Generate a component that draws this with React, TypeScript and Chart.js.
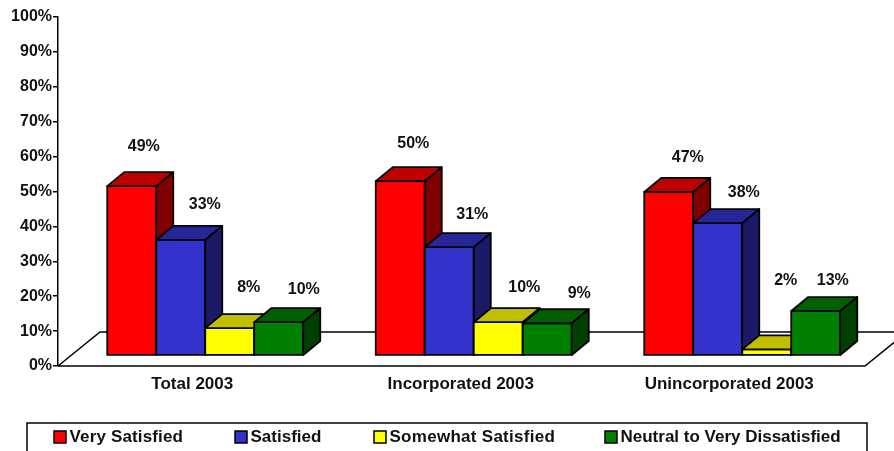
import React, { useEffect, useRef } from "react";
import { Chart, registerables } from "chart.js";

Chart.register(...registerables);

const categories = ["Total 2003", "Incorporated 2003", "Unincorporated 2003"];
const seriesNames = ["Very Satisfied", "Satisfied", "Somewhat Satisfied", "Neutral to Very Dissatisfied"];
const verySatisfied = [48.6, 50, 46.9];
const satisfied = [33.2, 31.1, 38];
const somewhatSatisfied = [7.9, 9.6, 1.8];
const neutralToDissatisfied = [9.6, 9.3, 12.8];
const seriesValues = [verySatisfied, satisfied, somewhatSatisfied, neutralToDissatisfied];

const frontColors = ["#FF0000", "#3333CC", "#FFFF00", "#008000"];
const topColors = ["#BF0000", "#262699", "#BFBF00", "#006000"];
const sideColors = ["#800000", "#1A1A66", "#808000", "#004000"];

// label nudges relative to the top centre of each bar's front face
const labelNudges = [
  [[12, -39], [13, -38], [19, -34]],
  [[24, -35], [23, -33], [26, -30]],
  [[19, -41], [26, -35], [19, -69]],
  [[25, -33], [32, -30], [17, -30]],
];
const legendX = [54, 235, 374, 605];
const legendTracking = ["0.15px", "0px", "0.28px", "0px"];

const FONT = '"Liberation Sans", Arial, sans-serif';
const INK = "#000000";
const SHIFT_X = 13;
const SHIFT_Y = -10.3;
const DEPTH_X = 17;
const DEPTH_Y = 14;
const EDGE = 1.8;

function poly(ctx: CanvasRenderingContext2D, pts: number[][], fill: string | null) {
  ctx.beginPath();
  pts.forEach((p, i) => (i ? ctx.lineTo(p[0], p[1]) : ctx.moveTo(p[0], p[1])));
  ctx.closePath();
  if (fill) {
    ctx.fillStyle = fill;
    ctx.fill();
  }
  ctx.stroke();
}

const bars3d = {
  id: "bars3d",
  beforeDatasetsDraw(chart: any) {
    const { ctx, chartArea: a, width } = chart;
    ctx.save();
    ctx.strokeStyle = INK;
    ctx.lineWidth = 1.5;
    ctx.beginPath();
    ctx.moveTo(a.left, a.bottom);
    ctx.lineTo(a.left + 42, a.bottom - 34);
    ctx.lineTo(width + 20, a.bottom - 34);
    ctx.moveTo(a.left, a.bottom);
    ctx.lineTo(a.right + 1.5, a.bottom);
    ctx.lineTo(a.right + 43.5, a.bottom - 34);
    ctx.stroke();
    ctx.restore();
  },
  // Chart.js paints the last dataset first; here each bar must overlap the one on its left.
  beforeDatasetDraw() {
    return false;
  },
  afterDatasetsDraw(chart: any) {
    const { ctx } = chart;
    seriesNames.forEach((_, s) => {
      const meta = chart.getDatasetMeta(s);
      ctx.save();
      ctx.translate(SHIFT_X, SHIFT_Y);
      meta.controller.draw();
      ctx.strokeStyle = INK;
      ctx.lineWidth = EDGE;
      ctx.lineJoin = "round";
      meta.data.forEach((bar: any) => {
        const p = bar.getProps(["x", "y", "base", "width"], true);
        const l = p.x - p.width / 2;
        const r = p.x + p.width / 2;
        poly(ctx, [[l, p.y], [r, p.y], [r, p.base], [l, p.base]], null);
        poly(ctx, [[l, p.y], [l + DEPTH_X, p.y - DEPTH_Y], [r + DEPTH_X, p.y - DEPTH_Y], [r, p.y]], topColors[s]);
        poly(ctx, [[r, p.y], [r + DEPTH_X, p.y - DEPTH_Y], [r + DEPTH_X, p.base - DEPTH_Y], [r, p.base]], sideColors[s]);
      });
      ctx.restore();
    });
  },
  afterDraw(chart: any) {
    const { ctx } = chart;
    ctx.save();
    // data labels
    ctx.fillStyle = "#111111";
    ctx.font = `bold 16px ${FONT}`;
    ctx.textAlign = "center";
    ctx.textBaseline = "middle";
    seriesValues.forEach((vals, s) => {
      const meta = chart.getDatasetMeta(s);
      vals.forEach((v, i) => {
        const bar = meta.data[i];
        const n = labelNudges[s][i];
        ctx.fillText(`${Math.round(v)}%`, bar.x + SHIFT_X + n[0], bar.y + SHIFT_Y + n[1]);
      });
    });
    // legend
    ctx.strokeStyle = INK;
    ctx.lineWidth = 1.5;
    ctx.strokeRect(27, 423, 840, 60);
    ctx.font = `bold 17px ${FONT}`;
    ctx.textAlign = "left";
    seriesNames.forEach((name, s) => {
      const x = legendX[s];
      ctx.fillStyle = frontColors[s];
      ctx.fillRect(x, 431, 12, 12);
      ctx.strokeRect(x, 431, 12, 12);
      ctx.fillStyle = "#111111";
      (ctx as any).letterSpacing = legendTracking[s];
      ctx.fillText(name, x + 15.5, 437.5);
    });
    ctx.restore();
  },
};

export default function App() {
  const ref = useRef<HTMLCanvasElement>(null);
  useEffect(() => {
    const chart = new Chart(ref.current as HTMLCanvasElement, {
      type: "bar",
      data: {
        labels: categories,
        datasets: seriesNames.map((name, s) => ({
          label: name,
          data: seriesValues[s],
          backgroundColor: frontColors[s],
          borderWidth: 0,
          categoryPercentage: 0.73,
          barPercentage: 1,
        })),
      },
      options: {
        responsive: false,
        animation: false,
        layout: { padding: { top: 17, right: 30.5, left: 0, bottom: 0 } },
        plugins: { legend: { display: false }, title: { display: false }, tooltip: { enabled: false } },
        scales: {
          x: {
            afterFit: (s: any) => { s.height = 85; },
            grid: { display: false },
            border: { display: false },
            ticks: { color: "#111111", padding: 0, font: { family: FONT, size: 17, weight: "bold" }, maxRotation: 0 },
          },
          y: {
            min: 0,
            max: 100,
            afterFit: (s: any) => { s.width = 58; },
            grid: { drawOnChartArea: false, drawTicks: true, tickLength: 5, color: INK, lineWidth: 1.5 },
            border: { display: true, color: INK, width: 1.5 },
            ticks: {
              stepSize: 10,
              padding: 1,
              color: "#111111",
              font: { family: FONT, size: 16, weight: "bold" },
              callback: (v: any) => `${v}%`,
            },
          },
        },
      },
      plugins: [bars3d],
    } as any);
    return () => chart.destroy();
  }, []);
  return (
    <div style={{ position: "fixed", left: 0, top: 0, width: 894, height: 451, background: "#fff" }}>
      <canvas ref={ref} width={894} height={451} style={{ display: "block" }} />
    </div>
  );
}
